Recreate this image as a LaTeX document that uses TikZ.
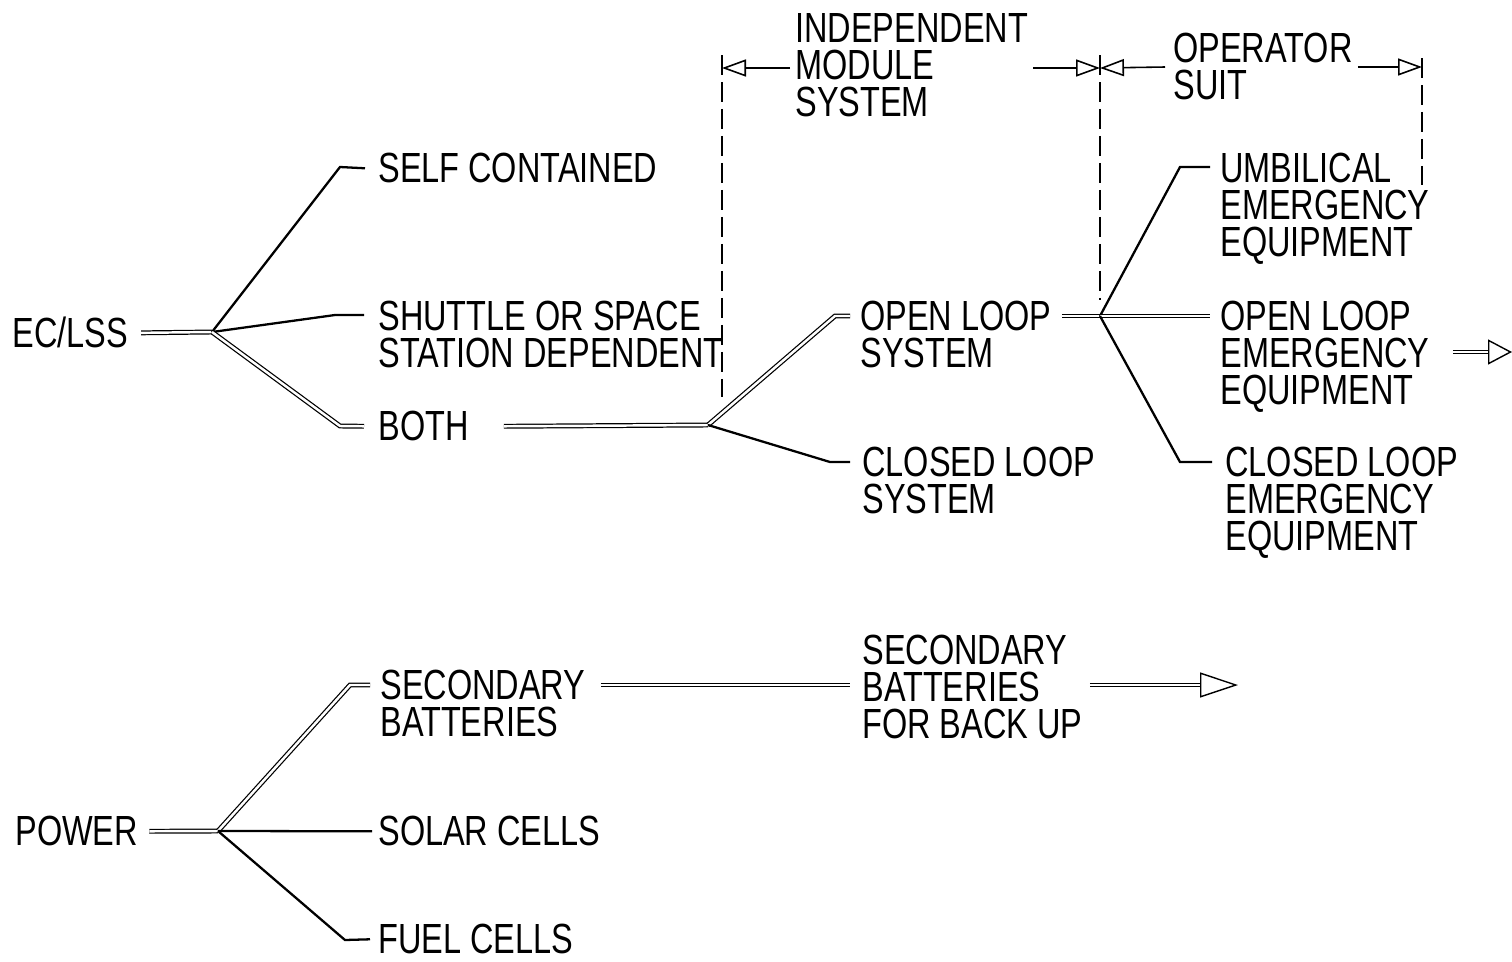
\documentclass[tikz,border=0pt]{standalone}
\usepackage{fontspec}
\setmainfont{Liberation Sans}[FakeStretch=0.77]
\usetikzlibrary{arrows.meta, calc}
\newcommand\lblfont{\fontsize{24}{21}\selectfont}

\begin{document}
\begin{tikzpicture}[
      x=0.02cm, y=-0.02cm,
      lbl/.style={anchor=north west, inner sep=0pt, align=left, font=\lblfont},
      dbl/.style={double, double distance=1.4pt, line width=0.7pt},
      link/.style={line width=1.3pt},
      cut/.style={line width=1pt, dash pattern=on 0.4cm off 0.14cm},
      dim/.style={line width=0.9pt, -{Triangle[open, length=0.48cm, width=0.34cm]}},
      bigtip/.style={line width=0.8pt, -{Triangle[open, length=#1, width=0.5cm]}}
    ]
      \useasboundingbox (0,0) rectangle (1512,961);

      % EC/LSS branch
      \node[lbl] (eclss) at (12,317) {EC/LSS};
      \node[lbl] (self) at (378,153) {SELF CONTAINED};
      \node[lbl] (shuttle) at (378,301) {SHUTTLE OR SPACE\\STATION DEPENDENT};
      \node[lbl] (both) at (378,411) {BOTH};

      % Module systems
      \node[lbl] (open) at (860,301) {OPEN LOOP\\SYSTEM};
      \node[lbl] (closed) at (862,447) {CLOSED LOOP\\SYSTEM};

      % Emergency equipment
      \node[lbl] (umb) at (1220,153) {UMBILICAL\\EMERGENCY\\EQUIPMENT};
      \node[lbl] (oee) at (1220,301) {OPEN LOOP\\EMERGENCY\\EQUIPMENT};
      \node[lbl] (cee) at (1225,447) {CLOSED LOOP\\EMERGENCY\\EQUIPMENT};

      % Headers
      \node[lbl] (indep) at (795,13) {INDEPENDENT\\MODULE\\SYSTEM};
      \node[lbl] (oper) at (1173,33) {OPERATOR\\SUIT};

      % Power branch
      \node[lbl] (power) at (15,816) {POWER};
      \node[lbl] (sec) at (380,670) {SECONDARY\\BATTERIES};
      \node[lbl] (solar) at (378,816) {SOLAR CELLS};
      \node[lbl] (fuel) at (378,924) {FUEL CELLS};
      \node[lbl] (secb) at (862,635) {SECONDARY\\BATTERIES\\FOR BACK UP};

      % Junctions and free ends
      \coordinate (j1) at (212,332);
      \coordinate (j2) at (708,425);
      \coordinate (j3) at (1100,316);
      \coordinate (j4) at (218,831);
      \coordinate (tipa) at (1512,352);
      \coordinate (tipb) at (1238,685);
      \coordinate (m1) at (722,68);
      \coordinate (m2) at (1100,68);
      \coordinate (m3) at (1422,67);

      % Connections, EC/LSS
      \draw[dbl] ($(eclss.east)+(13,0)$) -- (j1);
      \draw[link] (j1) -- (340,167) -- ($(self.west)+(-13,0)$);
      \draw[link] (j1) -- (335,315) -- ($(shuttle.north west)+(-14,14)$);
      \draw[dbl] (j1) -- (340,426) -- ($(both.west)+(-14,0)$);
      \draw[dbl] ($(both.east)+(35,0)$) -- (j2);
      \draw[dbl] (j2) -- (835,316) -- ($(open.north west)+(-10,15)$);
      \draw[link] (j2) -- (830,462) -- ($(closed.north west)+(-12,15)$);
      \draw[dbl] ($(open.north east)+(10,15)$) -- (j3);
      \draw[link] (j3) -- (1180,167) -- ($(umb.north west)+(-10,14)$);
      \draw[dbl] (j3) -- ($(oee.north west)+(-10,15)$);
      \draw[link] (j3) -- (1180,462) -- ($(cee.north west)+(-13,15)$);
      \draw[dbl] ($(oee.north east)+(23,51)$) -- ($(tipa)+(-24,0)$);
      \draw[bigtip=0.48cm] ($(tipa)+(-24,0)$) -- (tipa);

      % Connections, power
      \draw[dbl] ($(power.east)+(11,0)$) -- (j4);
      \draw[dbl] (j4) -- (350,685) -- ($(sec.north west)+(-10,15)$);
      \draw[link] (j4) -- ($(solar.west)+(-6,0)$);
      \draw[link] (j4) -- (345,940) -- ($(fuel.west)+(-8,0)$);
      \draw[dbl] ($(sec.north east)+(15,15)$) -- ($(secb.north west)+(-12,50)$);
      \draw[dbl] ($(secb.north east)+(7,50)$) -- ($(tipb)+(-38,0)$);
      \draw[bigtip=0.76cm] ($(tipb)+(-38,0)$) -- (tipb);

      % Boundary marks
      \draw[cut] (722,55) -- (722,397);
      \draw[cut] (1100,55) -- (1100,300);
      \draw[cut] (1422,58) -- (1422,185);
      \draw[dim] ($(indep.north west)+(-5,55)$) -- (m1);
      \draw[dim] ($(indep.north east)+(5,55)$) -- (m2);
      \draw[dim] ($(oper.north west)+(-8,34)$) -- (m2);
      \draw[dim] ($(oper.north east)+(5,34)$) -- (m3);
    \end{tikzpicture}
\end{document}
